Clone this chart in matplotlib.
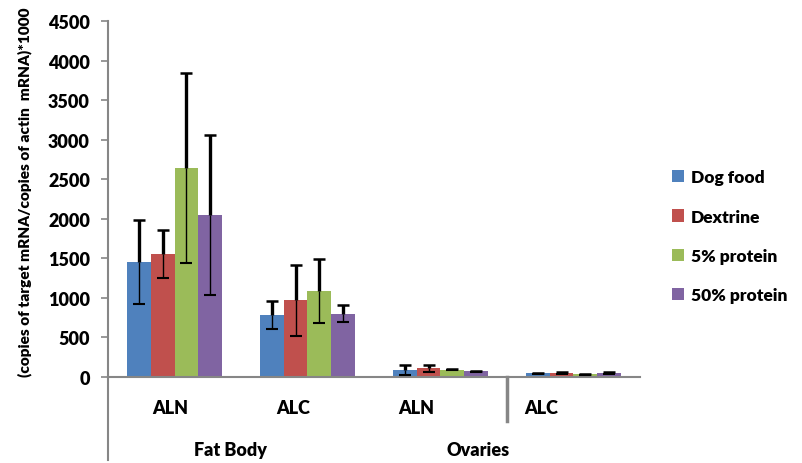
import numpy as np
import matplotlib
matplotlib.use('Agg')
import matplotlib.pyplot as plt
from matplotlib.lines import Line2D

plt.rcParams['font.family'] = ['Lato', 'DejaVu Sans']
plt.rcParams['font.weight'] = 'heavy'

# data
categories = ['ALN', 'ALC', 'ALN', 'ALC']
groups = ['Fat Body', 'Ovaries']
series = ['Dog food', 'Dextrine', '5% protein', '50% protein']
dog_food = [1456, 785, 92, 45]
dextrine = [1553, 971, 108, 55]
protein_5 = [2642, 1085, 95, 35]
protein_50 = [2047, 801, 70, 55]
err_dog_food = [530, 175, 65, 12]
err_dextrine = [300, 450, 40, 12]
err_protein_5 = [1195, 405, 10, 8]
err_protein_50 = [1016, 105, 10, 12]
yticks = [0, 500, 1000, 1500, 2000, 2500, 3000, 3500, 4000, 4500]

values = [dog_food, dextrine, protein_5, protein_50]
errors = [err_dog_food, err_dextrine, err_protein_5, err_protein_50]
colors = ['#4F81BD', '#C0504D', '#9BBB59', '#8064A2']
axis_grey = '#868686'

fig = plt.figure(figsize=(8.03, 4.64), dpi=100)
ax = fig.add_axes([0.1345, 0.1853, 0.6625, 0.7673])

x = np.arange(len(categories))
w = 0.18
for i, (vals, errs, c, name) in enumerate(zip(values, errors, colors, series)):
    pos = x + (i - 1.5) * w
    vals = np.array(vals)
    errs = np.array(errs)
    ax.bar(pos, vals, width=w, color=c, label=name, zorder=2)
    # upper whisker heavier, lower one thin (as in the original)
    ax.vlines(pos, vals, vals + errs, color='black', lw=2.4, zorder=3)
    ax.vlines(pos, vals - errs, vals, color='black', lw=1.0, zorder=3)
    ax.plot(pos, vals + errs, ls='none', marker='_', ms=9, mew=1.8,
            color='black', zorder=3)
    ax.plot(pos, vals - errs, ls='none', marker='_', ms=9, mew=1.5,
            color='black', zorder=3)

ax.set_xlim(-0.5, 3.5)
ax.set_ylim(0, 4500)
ax.set_yticks(yticks)
ax.set_xticks([])
for s in ['top', 'right']:
    ax.spines[s].set_visible(False)
ax.spines['left'].set_color(axis_grey)
ax.spines['bottom'].set_color(axis_grey)
ax.spines['left'].set_linewidth(1.5)
ax.spines['bottom'].set_linewidth(1.5)
ax.tick_params(axis='y', length=5, width=1.2, color=axis_grey, pad=8,
               labelsize=13)
for t in ax.get_yticklabels():
    t.set_fontweight('heavy')

# left axis carried down through the category rows
ax.add_line(Line2D([0, 0], [0, -0.232], transform=ax.transAxes,
                   color=axis_grey, lw=1.5, clip_on=False))
# separator between the two ovaries categories
ax.plot([2.5, 2.5], [0, -550], color=axis_grey, lw=2.5, clip_on=False)

label_x = [-0.03, 0.89, 1.82, 2.76]
for lx, lab in zip(label_x, categories):
    ax.text(lx, -380, lab, ha='center', va='center', fontsize=13,
            fontweight='heavy', clip_on=False)
group_x = [0.42, 2.28]
for gx, lab in zip(group_x, groups):
    ax.text(gx, -910, lab, ha='center', va='center', fontsize=13,
            fontweight='heavy', clip_on=False)

fig.text(25 / 803, 1 - 192 / 464,
         '(copies of target mRNA/copies of actin  mRNA)*1000',
         rotation=90, ha='center', va='center', fontsize=11.1,
         fontweight='heavy')

leg = fig.legend(loc='upper left', bbox_to_anchor=(0.817, 0.667),
                 frameon=False, fontsize=12.5, handlelength=0.7,
                 handleheight=0.7, handletextpad=0.4, labelspacing=1.35)
for t in leg.get_texts():
    t.set_fontweight('heavy')

fig.savefig('out.png', dpi=100)
